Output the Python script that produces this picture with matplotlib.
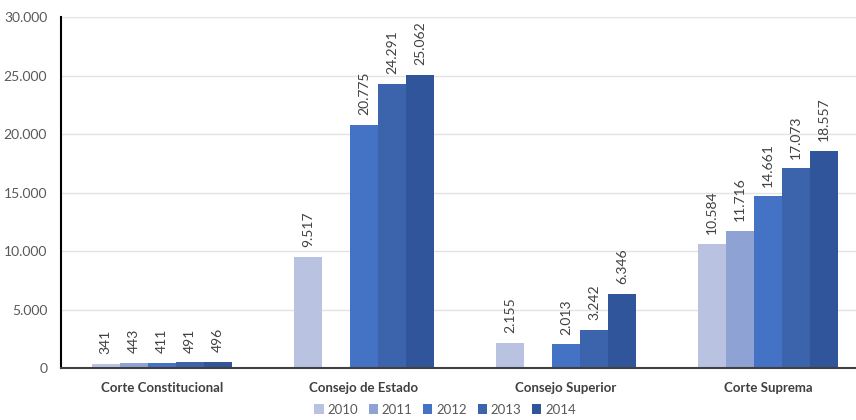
import numpy as np
import matplotlib.pyplot as plt
from matplotlib.ticker import FuncFormatter

plt.rcParams['font.family'] = ['Lato', 'DejaVu Sans']

# Data
categories = ["Corte Constitucional", "Consejo de Estado", "Consejo Superior", "Corte Suprema"]
years = ["2010", "2011", "2012", "2013", "2014"]
v2010 = [341, 9517, 2155, 10584]
v2011 = [443, np.nan, np.nan, 11716]
v2012 = [411, 20775, 2013, 14661]
v2013 = [491, 24291, 3242, 17073]
v2014 = [496, 25062, 6346, 18557]
series = [v2010, v2011, v2012, v2013, v2014]
colors = ["#B9C2E1", "#8EA2D3", "#4472C4", "#3B64AD", "#30559A"]


def fmt(v):
    return f"{int(round(v)):,}".replace(",", ".")


fig = plt.figure(figsize=(8.56, 4.2), dpi=100)
ax = fig.add_axes([0.0713, 0.1238, 0.9287, 0.8357])

x = np.arange(len(categories))
w = 0.139
for i, (vals, col, yr) in enumerate(zip(series, colors, years)):
    pos = x + (i - 2) * w
    ax.bar(pos, vals, width=w, color=col, label=yr, zorder=3)
    for xp, v in zip(pos, vals):
        if np.isnan(v):
            continue
        ax.annotate(fmt(v), (xp, v), xytext=(0, 7), textcoords="offset points",
                    rotation=90, ha="center", va="bottom", fontsize=10, color="#404040")

ax.set_xlim(-0.5, 3.436)
ax.set_ylim(0, 30000)
ax.set_yticks(range(0, 30001, 5000))
ax.yaxis.set_major_formatter(FuncFormatter(lambda v, p: fmt(v)))
ax.set_xticks(x)
ax.set_xticklabels(categories, fontweight="bold", fontsize=9.5, color="#404040")
ax.tick_params(axis="x", length=0, pad=10)
ax.tick_params(axis="y", length=0, labelsize=10, labelcolor="#595959", pad=10)
ax.grid(axis="y", color="#E3E3E3", linewidth=1, zorder=0)

for s in ["top", "right"]:
    ax.spines[s].set_visible(False)
ax.spines["left"].set_color("black")
ax.spines["left"].set_linewidth(1.5)
ax.spines["bottom"].set_color("#404040")
ax.spines["bottom"].set_linewidth(1.5)
ax.spines["bottom"].set_zorder(4)

fig.legend(*ax.get_legend_handles_labels(), loc="center", bbox_to_anchor=(0.52, 0.025),
           ncol=5, frameon=False, handlelength=0.7, handleheight=0.7, handletextpad=0.3,
           columnspacing=0.8, fontsize=9.5, labelcolor="#595959", borderpad=0.1)

fig.savefig("out.png", dpi=100)
